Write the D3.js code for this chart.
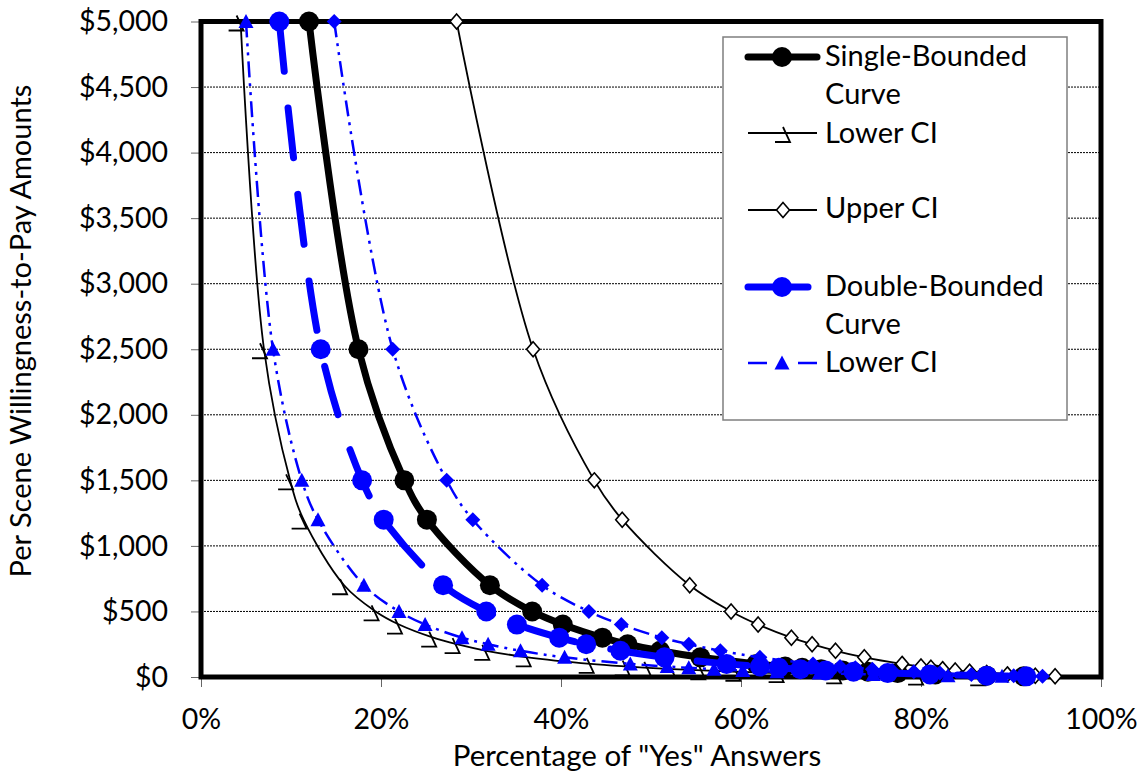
<!DOCTYPE html>
<html>
<head>
<meta charset="utf-8">
<script src="https://cdn.jsdelivr.net/npm/d3@7"></script>
<style>
  body { margin: 0; background: #fff; }
  svg { display: block; }
  text { font-family: Lato, "Open Sans", sans-serif; fill: #000; }
</style>
</head>
<body>
<svg id="chart" width="1144" height="774"></svg>
<script>
// Bid amounts (per scene WTP, $) shared by every curve
const bids = [5000, 2500, 1500, 1200, 700, 500, 400, 300, 250, 200, 150, 100, 80, 70, 60, 50, 40, 30, 20, 10, 5];

// Percentage of "Yes" answers at each bid
const singleCurve = [12.0, 17.5, 22.6, 25.1, 32.1, 36.8, 40.2, 44.6, 47.4, 51.0, 55.5, 61.7, 64.9, 66.8, 68.9, 71.3, 74.1, 77.4, 81.6, 87.3, 91.4];
const singleLower = [4.4, 7.0, 9.9, 11.4, 15.9, 19.4, 22.0, 25.8, 28.4, 31.7, 36.3, 43.3, 47.3, 49.7, 52.4, 55.7, 59.6, 64.4, 70.8, 79.9, 86.8];
const singleUpper = [28.4, 36.9, 43.7, 46.8, 54.3, 58.9, 61.9, 65.6, 67.9, 70.5, 73.7, 77.9, 80.0, 81.1, 82.4, 83.8, 85.4, 87.3, 89.6, 92.7, 94.9];
const doubleCurve = [8.7, 13.3, 17.9, 20.3, 26.9, 31.7, 35.1, 39.8, 42.8, 46.6, 51.5, 58.4, 62.1, 64.2, 66.6, 69.4, 72.5, 76.3, 81.0, 87.3, 91.7];
const doubleLower = [5.0, 8.0, 11.2, 13.0, 18.1, 22.0, 24.9, 29.0, 31.9, 35.5, 40.4, 47.7, 51.8, 54.2, 57.0, 60.2, 64.0, 68.7, 74.7, 83.0, 89.0];
const doubleUpper = [14.8, 21.3, 27.3, 30.2, 37.9, 43.1, 46.7, 51.2, 54.2, 57.7, 62.1, 68.0, 71.0, 72.7, 74.6, 76.8, 79.2, 82.1, 85.6, 90.3, 93.5];

// Axis ticks
const yTicks = [0, 500, 1000, 1500, 2000, 2500, 3000, 3500, 4000, 4500, 5000];
const xTicks = [0, 20, 40, 60, 80, 100];

const legendLabels = [["Single-Bounded", "Curve"], ["Lower CI"], ["Upper CI"], ["Double-Bounded", "Curve"], ["Lower CI"]];

const BLUE = "#0000ff";
const svg = d3.select("#chart");

const x = d3.scaleLinear().domain([0, 100]).range([201, 1101]);
const y = d3.scaleLinear().domain([0, 5000]).range([677, 21.5]);

// Horizontal dotted gridlines
svg.append("g")
  .selectAll("line")
  .data(yTicks.filter(v => v > 0 && v < 5000))
  .join("line")
  .attr("x1", x(0)).attr("x2", x(100))
  .attr("y1", d => y(d)).attr("y2", d => y(d))
  .attr("stroke", "#000").attr("stroke-width", 1)
  .attr("stroke-dasharray", "2,1");

// Axes
const fmtMoney = d => "$" + d3.format(",")(d);
const yAxis = svg.append("g")
  .attr("transform", `translate(${x(0)},0)`)
  .call(d3.axisLeft(y).tickValues(yTicks).tickSize(10).tickPadding(23).tickFormat(fmtMoney));
const xAxis = svg.append("g")
  .attr("transform", `translate(0,${y(0)})`)
  .call(d3.axisBottom(x).tickValues(xTicks).tickSize(10).tickPadding(22).tickFormat(d => d + "%"));
[yAxis, xAxis].forEach(a => {
  a.select(".domain").remove();
  a.selectAll(".tick line").attr("stroke", "#666").attr("stroke-width", 1);
  a.selectAll(".tick text").attr("font-size", 28.5).attr("font-family", "Lato, sans-serif").attr("fill", "#000");
});

// Plot-area frame
svg.append("rect")
  .attr("x", x(0)).attr("y", y(5000))
  .attr("width", x(100) - x(0)).attr("height", y(0) - y(5000))
  .attr("fill", "none").attr("stroke", "#000").attr("stroke-width", 5);

// Axis titles
svg.append("text")
  .attr("x", 637).attr("y", 766)
  .attr("text-anchor", "middle").attr("font-size", 29.5)
  .text('Percentage of "Yes" Answers');
svg.append("text")
  .attr("transform", "translate(31,331) rotate(-90)")
  .attr("text-anchor", "middle").attr("font-size", 29)
  .text("Per Scene Willingness-to-Pay Amounts");

// Marker drawing
function marker(g, type, cx, cy) {
  const t = `translate(${cx},${cy})`;
  switch (type) {
    case "circleBlack":
      g.append("circle").attr("cx", cx).attr("cy", cy).attr("r", 10).attr("fill", "#000");
      break;
    case "circleBlue":
      g.append("circle").attr("cx", cx).attr("cy", cy).attr("r", 10).attr("fill", BLUE);
      break;
    case "hook":
      g.append("path").attr("transform", t).attr("d", "M-12,9L3,9L-4,-6")
        .attr("fill", "none").attr("stroke", "#000").attr("stroke-width", 1.8);
      break;
    case "openDiamond":
      g.append("path").attr("transform", t).attr("d", "M0,-7.5L6.5,0L0,7.5L-6.5,0Z")
        .attr("fill", "#fff").attr("stroke", "#000").attr("stroke-width", 1.6);
      break;
    case "triangle":
      g.append("path").attr("transform", t).attr("d", "M0,-7.5L7.5,6.5L-7.5,6.5Z").attr("fill", BLUE);
      break;
    case "diamond":
      g.append("path").attr("transform", t).attr("d", "M0,-7.5L7.5,0L0,7.5L-7.5,0Z").attr("fill", BLUE);
      break;
  }
}

const series = [
  { vals: singleCurve, color: "#000", width: 7, dash: null, cap: "round", mk: "circleBlack" },
  { vals: singleLower, color: "#000", width: 1.8, dash: null, cap: "butt", mk: "hook" },
  { vals: singleUpper, color: "#000", width: 1.8, dash: null, cap: "butt", mk: "openDiamond" },
  { vals: doubleCurve, color: BLUE, width: 7, dash: "50,37", cap: "round", mk: "circleBlue" },
  { vals: doubleLower, color: BLUE, width: 2.5, dash: "16,6,3,6,3,6", cap: "butt", mk: "triangle" },
  { vals: doubleUpper, color: BLUE, width: 2.5, dash: "16,6,3,6,3,6", cap: "butt", mk: "diamond" }
];

const line = d3.line()
  .x(d => x(d.p)).y(d => y(d.b))
  .curve(d3.curveCatmullRom.alpha(0.5));

const plot = svg.append("g");
series.forEach(s => {
  const pts = bids.map((b, i) => ({ b, p: s.vals[i] }));
  plot.append("path").datum(pts)
    .attr("d", line)
    .attr("fill", "none").attr("stroke", s.color)
    .attr("stroke-width", s.width)
    .attr("stroke-linecap", s.cap).attr("stroke-linejoin", "round")
    .attr("stroke-dasharray", s.dash);
  const mg = plot.append("g");
  pts.forEach(d => marker(mg, s.mk, x(d.p), y(d.b)));
});

// Legend
const lg = svg.append("g");
lg.append("rect").attr("x", 723).attr("y", 37).attr("width", 344).attr("height", 383)
  .attr("fill", "#fff").attr("stroke", "#7f7f7f").attr("stroke-width", 1.5);

const legendRows = [
  { lineY: 57, base: 66, s: series[0], x2: 817, dash: null },
  { lineY: 133, base: 143, s: series[1], x2: 817, dash: null, mx: 787 },
  { lineY: 210, base: 218, s: series[2], x2: 817, dash: null, mx: 783 },
  { lineY: 287, base: 296, s: series[3], x2: 808, dash: null },
  { lineY: 363, base: 372, s: series[4], x2: 817, dash: "19,31,19" }
];
legendRows.forEach((r, i) => {
  lg.append("line").attr("x1", 748).attr("x2", r.x2).attr("y1", r.lineY).attr("y2", r.lineY)
    .attr("stroke", r.s.color).attr("stroke-width", r.s.width)
    .attr("stroke-linecap", r.s.cap).attr("stroke-dasharray", r.dash);
  marker(lg, r.s.mk, r.mx || 782, r.lineY);
  legendLabels[i].forEach((t, k) => {
    lg.append("text").attr("x", 825).attr("y", r.base + k * 38).attr("font-size", 29).text(t);
  });
});
</script>
</body>
</html>
